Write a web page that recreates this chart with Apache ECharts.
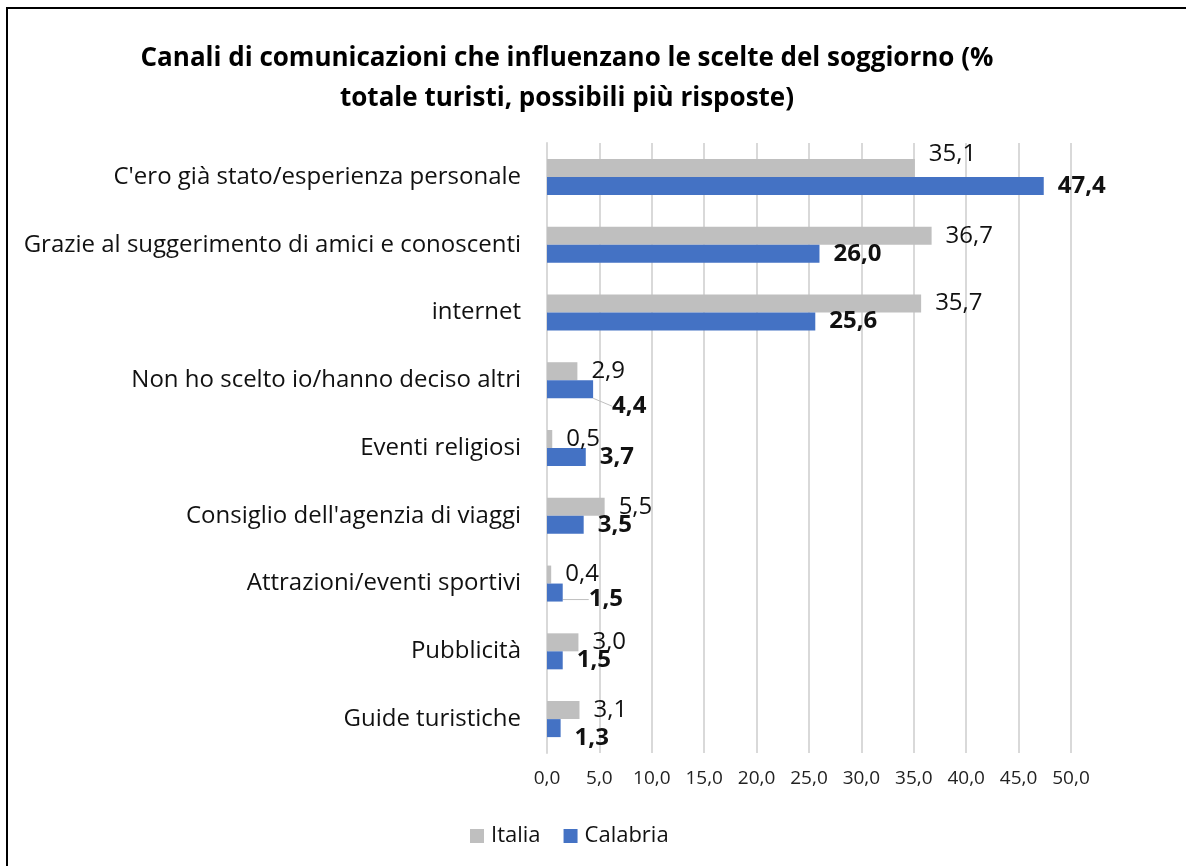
<!DOCTYPE html>
<html>
	<head>
		<meta charset="UTF-8">
		<title>index</title>
		<script src="https://cdn.jsdelivr.net/npm/echarts@6/dist/echarts.min.js"></script>
		<style>
			body{ margin: 0; background: #fff; }
			#main{ width: 1186px; height: 866px; }
		</style>
	</head>
	<body>
		<div id="main"></div>
		<script>
			const categories = [
				"C'ero già stato/esperienza personale",
				'Grazie al suggerimento di amici e conoscenti',
				'internet',
				'Non ho scelto io/hanno deciso altri',
				'Eventi religiosi',
				"Consiglio dell'agenzia di viaggi",
				'Attrazioni/eventi sportivi',
				'Pubblicità',
				'Guide turistiche'
			]
			const italia = [35.1, 36.7, 35.7, 2.9, 0.5, 5.5, 0.4, 3.0, 3.1]
			const calabria = [47.4, 26.0, 25.6, 4.4, 3.7, 3.5, 1.5, 1.5, 1.3]
			const tickValues = [0, 5, 10, 15, 20, 25, 30, 35, 40, 45, 50]

			// labels moved by hand in the original (index -> [dx, dy])
			const italiaMoved = { 0: [0, -14] }
			const calabriaMoved = { 3: [5, 17], 6: [12, 7], 8: [0, 10] }
			const calabriaLeader = [3, 6]

			const fmt = v => v.toFixed(1).replace('.', ',')
			const font = '"Open Sans", Lato, sans-serif'

			let mychart = echarts.init(document.getElementById('main'))

			let option = {
				animation: false,
				textStyle: { fontFamily: font },
				title: {
					text: 'Canali di comunicazioni che influenzano le scelte del soggiorno (%\ntotale turisti, possibili più risposte)',
					left: 562,
					textAlign: 'center',
					top: 34,
					textStyle: { fontSize: 26, fontWeight: 'bold', color: '#000', lineHeight: 40, fontFamily: font }
				},
				legend: {
					left: 465,
					top: 820,
					itemWidth: 14,
					itemHeight: 14,
					itemGap: 23,
					icon: 'rect',
					textStyle: { fontSize: 22, color: '#111', fontFamily: font, padding: [0, 0, 0, 2] },
					data: ['Italia', 'Calabria']
				},
				grid: { left: 547, right: 115, top: 143, bottom: 113 },
				xAxis: {
					type: 'value',
					min: 0,
					max: 50,
					interval: 5,
					axisLine: { show: false },
					axisTick: { show: false },
					splitLine: { lineStyle: { color: '#D9D9D9', width: 2 } },
					axisLabel: {
						fontSize: 19,
						color: '#222',
						margin: 16,
						formatter: v => tickValues.includes(v) ? fmt(v) : ''
					}
				},
				yAxis: {
					type: 'category',
					data: categories,
					inverse: true,
					axisLine: { lineStyle: { color: '#D9D9D9', width: 2 } },
					axisTick: { show: false },
					axisLabel: { fontSize: 24, color: '#111', margin: 26 }
				},
				graphic: [{
					type: 'rect',
					shape: { x: 7, y: 8, width: 1300, height: 1000 },
					style: { fill: 'none', stroke: '#000', lineWidth: 2 },
					silent: true
				}],
				series: [
					{
						name: 'Italia',
						type: 'bar',
						data: italia,
						barWidth: 18,
						barGap: '0%',
						itemStyle: { color: '#BFBFBF' },
						label: {
							show: true,
							position: 'right',
							distance: 14,
							fontSize: 24,
							color: '#111',
							formatter: p => fmt(p.value)
						},
						labelLayout: p => {
							let m = italiaMoved[p.dataIndex]
							return m ? { dx: m[0], dy: m[1] } : {}
						}
					},
					{
						name: 'Calabria',
						type: 'bar',
						data: calabria.map((v, i) => ({
							value: v,
							labelLine: { show: calabriaLeader.includes(i) }
						})),
						barWidth: 18,
						barGap: '0%',
						itemStyle: { color: '#4472C4' },
						label: {
							show: true,
							position: 'right',
							distance: 14,
							fontSize: 24,
							fontWeight: 'bold',
							color: '#111',
							formatter: p => fmt(p.value)
						},
						labelLine: { lineStyle: { color: '#BFBFBF', width: 1 } },
						labelLayout: p => {
							let m = calabriaMoved[p.dataIndex]
							return m ? { dx: m[0], dy: m[1] } : {}
						}
					}
				]
			}
			mychart.setOption(option)
		</script>
	</body>
</html>
